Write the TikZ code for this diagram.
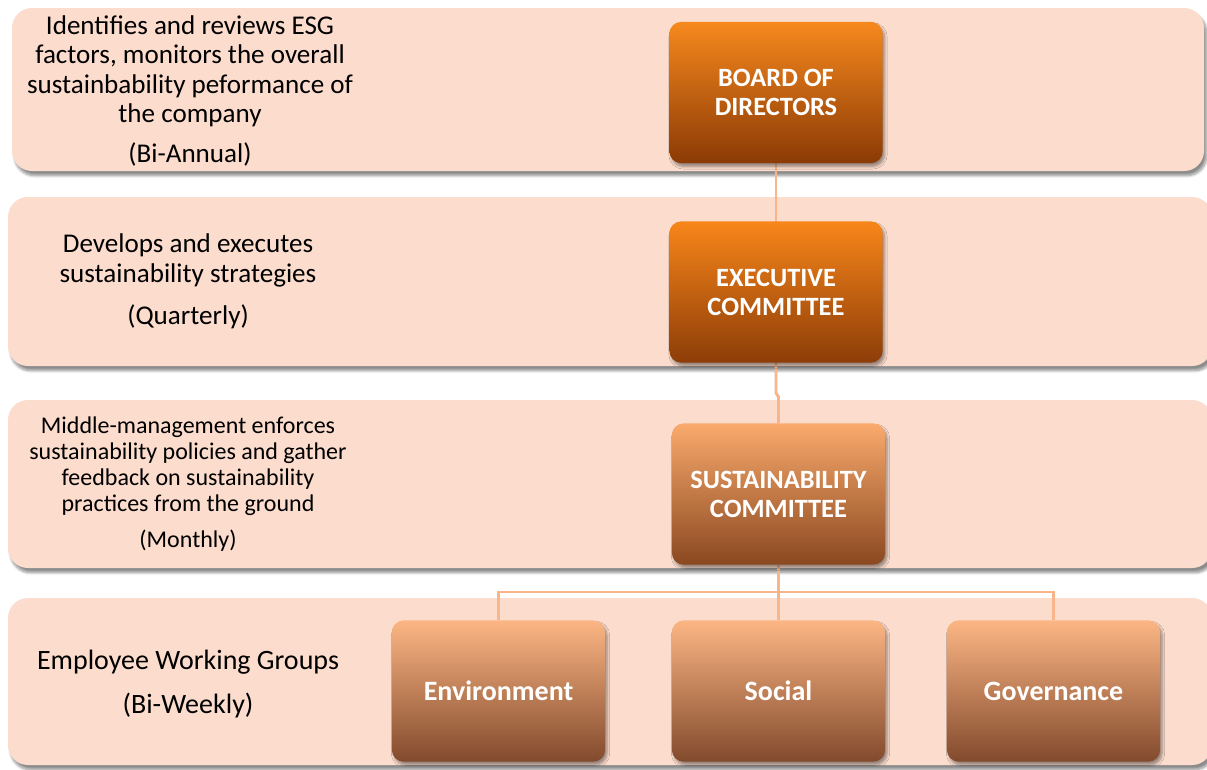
\documentclass[tikz,border=0pt]{standalone}
\usepackage{fontspec}
\setmainfont{Carlito}
\usetikzlibrary{shadows.blur}

\definecolor{bandfill}{HTML}{FBDCCD}
\definecolor{linkcol}{HTML}{F9B48A}

\begin{document}
\begin{tikzpicture}[x=0.75pt,y=-0.75pt,
    band/.style={fill=bandfill,draw=none,rounded corners=15pt,
      blur shadow={shadow xshift=2pt,shadow yshift=-3.5pt,shadow blur steps=8,shadow opacity=45}},
    info/.style={align=center,text=black},
    box/.style={rounded corners=9pt,minimum width=160pt,minimum height=106pt,
      align=center,text=white,font=\fontsize{19.8}{21.8}\selectfont\bfseries,
      blur shadow={shadow xshift=1.5pt,shadow yshift=-2.5pt,shadow blur steps=6,shadow opacity=40}},
    top box/.style={box},
    mid box/.style={box},
    group box/.style={box,font=\fontsize{21}{24}\selectfont\bfseries},
    link/.style={draw=linkcol,line width=2.2pt}]
  \useasboundingbox (0,0) rectangle (1207,769);

  % the four layers
  \fill[band] (12,8) rectangle (1204,171);
  \fill[band] (8,197) rectangle (1212,366);
  \fill[band] (8,400) rectangle (1212,568);
  \fill[band] (8,598) rectangle (1212,765);

  % what each layer does
  \node[info,font=\fontsize{20.3}{21.9}\selectfont] (t1) at (190,91)
    {Identifies and reviews ESG\\factors, monitors the overall\\sustainbability peformance of\\the company\\[8pt](Bi-Annual)};
  \node[info,font=\fontsize{20.3}{22.5}\selectfont] (t2) at (188,281)
    {Develops and executes\\sustainability strategies\\[9pt](Quarterly)};
  \node[info,font=\fontsize{18}{19.5}\selectfont] (t3) at (188,484)
    {Middle-management enforces\\sustainability policies and gather\\feedback on sustainability\\practices from the ground\\[8pt](Monthly)};
  \node[info,font=\fontsize{21}{23.5}\selectfont] (t4) at (188,684)
    {Employee Working Groups\\[9pt](Bi-Weekly)};

  % links
  \draw[link] (776,163) -- (776,222);
  \draw[link] (776,362) -- (776,393) -- (778.5,397) -- (778.5,423);
  \draw[link] (778.5,565) -- (778.5,620);
  \draw[link] (498.5,620) |- (778.5,592) -| (1053.5,620);

  % committees
  \node[top box,top color={rgb,255:red,247;green,137;blue,30},bottom color={rgb,255:red,139;green,58;blue,5}]
    (bod) at (776,92.5) {BOARD OF\\DIRECTORS};
  \node[top box,top color={rgb,255:red,248;green,134;blue,26},bottom color={rgb,255:red,141;green,61;blue,8}]
    (exec) at (776,292) {EXECUTIVE\\COMMITTEE};
  \node[mid box,top color={rgb,255:red,250;green,170;blue,108},bottom color={rgb,255:red,138;green,72;blue,32}]
    (sust) at (778.5,494) {SUSTAINABILITY\\COMMITTEE};

  % working groups
  \foreach \name/\xpos/\label in {env/498.5/Environment,soc/778.5/Social,gov/1053.5/Governance}
    \node[group box,top color={rgb,255:red,252;green,182;blue,132},bottom color={rgb,255:red,130;green,74;blue,44}]
      (\name) at (\xpos,691) {\label};
\end{tikzpicture}
\end{document}
